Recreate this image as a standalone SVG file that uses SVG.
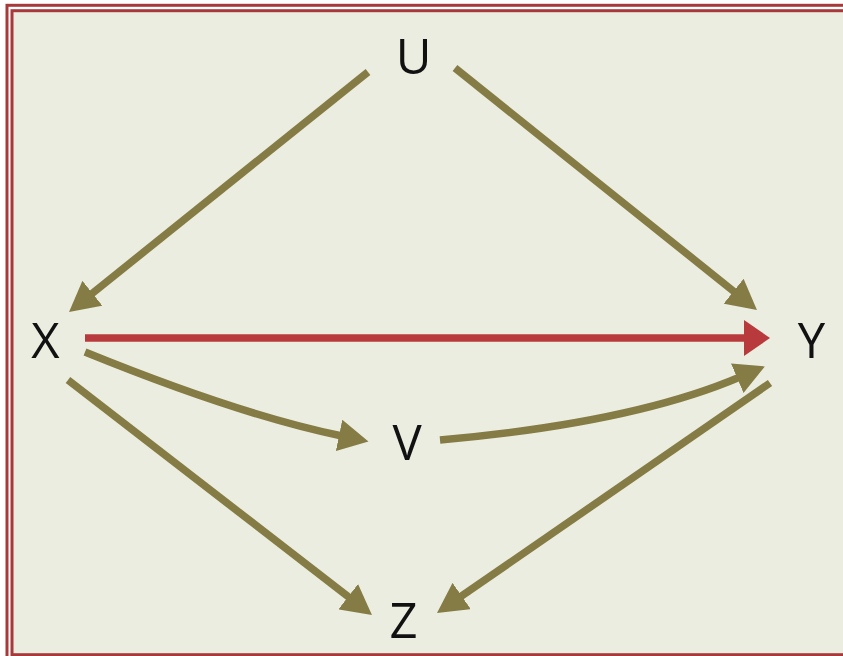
<svg xmlns="http://www.w3.org/2000/svg" width="843" height="656" viewBox="0 0 843 656">
<style>
.frame{fill:none;stroke:#A8393B;stroke-width:3}
.edge{fill:none;stroke:#857B44;stroke-width:7.5}
.red{fill:none;stroke:#B83A3C;stroke-width:7.5}
.lbl{font-family:"Open Sans","Liberation Sans",sans-serif;font-size:49px;fill:#111;text-anchor:middle}
</style>
<defs>
<marker id="ah" markerUnits="userSpaceOnUse" markerWidth="32" markerHeight="32" refX="3" refY="16" orient="auto">
<path d="M0,0 L30,16 L0,32 z" fill="#857B44"/>
</marker>
<marker id="ahr" markerUnits="userSpaceOnUse" markerWidth="28" markerHeight="36" refX="3" refY="18" orient="auto">
<path d="M0,0 L26,18 L0,36 z" fill="#B83A3C"/>
</marker>
</defs>
<rect x="0" y="0" width="843" height="656" fill="#ffffff"/>
<rect x="12" y="10.7" width="900" height="644" fill="#EBEDE0"/>
<rect class="frame" x="7" y="5.3" width="900" height="700"/>
<rect class="frame" x="12" y="10.7" width="900" height="644"/>
<g id="connectors">
<path class="edge" d="M368,72 L90.1,295.1" marker-end="url(#ah)"/>
<path class="edge" d="M455,68 L735.9,293.1" marker-end="url(#ah)"/>
<path class="red" d="M85,338 L747,338" marker-end="url(#ahr)"/>
<path class="edge" d="M85,352 Q240,415 342,436" marker-end="url(#ah)"/>
<path class="edge" d="M440,440 Q632,423 740,377" marker-end="url(#ah)"/>
<path class="edge" d="M68,380 L350.6,598.5" marker-end="url(#ah)"/>
<path class="edge" d="M770,383 L459.2,597.7" marker-end="url(#ah)"/>
</g>
<g id="U"><text class="lbl" x="413.5" y="74">U</text></g>
<g id="X"><text class="lbl" x="45.5" y="358">X</text></g>
<g id="Y"><text class="lbl" x="811.5" y="358">Y</text></g>
<g id="V"><text class="lbl" x="407" y="460">V</text></g>
<g id="Z"><text class="lbl" x="403.5" y="638">Z</text></g>
</svg>
